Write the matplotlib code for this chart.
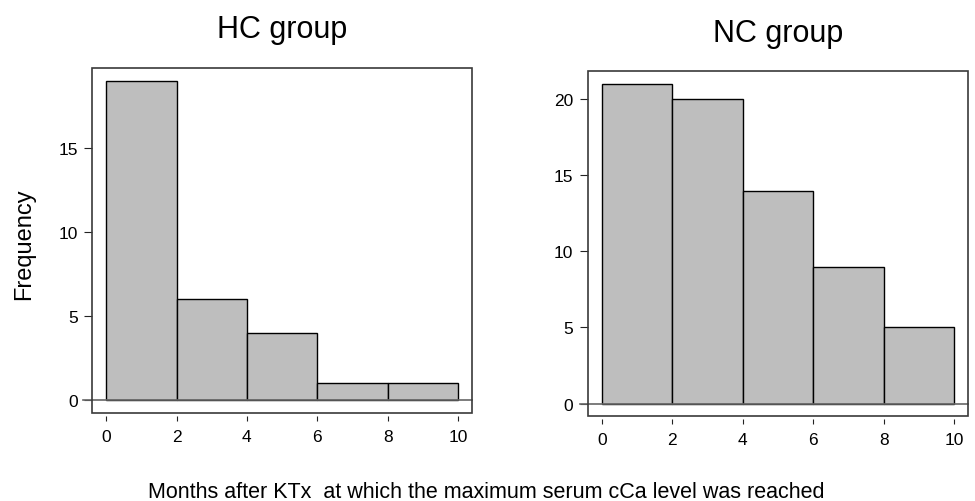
import numpy as np
import matplotlib
matplotlib.use("Agg")
import matplotlib.pyplot as plt
from matplotlib.patches import Rectangle
import matplotlib.transforms as mtransforms

plt.rcParams['font.family'] = ['Liberation Sans', 'DejaVu Sans']

bin_edges = [0, 2, 4, 6, 8, 10]
hc_counts = [19, 6, 4, 1, 1]
nc_counts = [21, 20, 14, 9, 5]
hc_yticks = [0, 5, 10, 15]
nc_yticks = [0, 5, 10, 15, 20]
xticks = [0, 2, 4, 6, 8, 10]
titles = ["HC group", "NC group"]
ylabel = "Frequency"
xlabel = "Months after KTx  at which the maximum serum cCa level was reached"

W, H = 975, 502
fig = plt.figure(figsize=(W / 100, H / 100), dpi=100)

def make_axes(x0, x1, top, bottom):
    return fig.add_axes([x0 / W, (H - bottom) / H, (x1 - x0) / W, (bottom - top) / H])

ax1 = make_axes(92, 472.3, 69, 414)
ax2 = make_axes(587.7, 968.3, 72.3, 417.3)

def draw_hist(ax, counts, yticks, title, title_baseline, line_left):
    edges = np.array(bin_edges, dtype=float)
    ax.bar(edges[:-1], counts, width=np.diff(edges), align='edge',
           color='#bebebe', edgecolor='black', linewidth=1.0, zorder=2)
    ymax = max(counts)
    ax.set_xlim(-0.4, 10.4)
    ax.set_ylim(-0.04 * ymax, ymax * 1.04)
    # zero line
    trans = mtransforms.blended_transform_factory(ax.transAxes, ax.transData)
    ax.plot([line_left, 1.0], [0, 0], color='#666666', linewidth=1.2,
            transform=trans, clip_on=False, zorder=3)
    for s in ax.spines.values():
        s.set_visible(False)
    ax.add_patch(Rectangle((0, 0), 1, 1, transform=ax.transAxes, fill=False,
                           edgecolor='#3a3a3a', linewidth=1.2, clip_on=False, zorder=4))
    ax.spines['bottom'].set_position(('outward', 2.2))
    ax.set_xticks(xticks)
    ax.set_yticks(yticks)
    ax.tick_params(axis='x', direction='out', length=3.8, width=0.8, pad=5.5,
                   labelsize=12.5, color='#222222')
    ax.tick_params(axis='y', direction='out', length=5.8, width=0.8, pad=4.5,
                   labelsize=12.5, color='#222222')
    cx = (ax.get_position().x0 + ax.get_position().x1) / 2
    fig.text(cx, (H - title_baseline) / H, title, ha='center', va='baseline',
             fontsize=22)

draw_hist(ax1, hc_counts, hc_yticks, titles[0], 38, -0.024)
draw_hist(ax2, nc_counts, nc_yticks, titles[1], 42, -0.02)

fig.text(24 / W, (H - 244) / H, ylabel, rotation=90, ha='center', va='center',
         fontsize=17)
fig.text(486.5 / W, (H - 498) / H, xlabel, ha='center', va='baseline', fontsize=15.5)

fig.savefig("out.png", dpi=100)
